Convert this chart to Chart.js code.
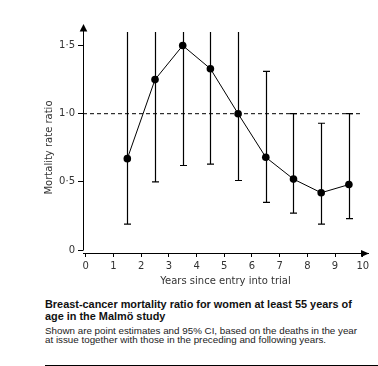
<!DOCTYPE html>
<html>
<head>
<meta charset="utf-8">
<script src="https://cdn.jsdelivr.net/npm/chart.js@4.4.1/dist/chart.umd.min.js"></script>
<style>
    body { margin: 0; width: 378px; height: 366px; position: relative; background: #fff; overflow: hidden; }
    #grafica { position: absolute; left: 0; top: 0; }
    .titulo { position: absolute; left: 45px; top: 297.5px; font: bold 10.9px 'Liberation Sans', Arial, sans-serif; line-height: 12.5px; color: #111; white-space: nowrap; }
    .nota { position: absolute; left: 45px; top: 325.5px; font: 9.8px 'Liberation Sans', Arial, sans-serif; line-height: 9.5px; color: #222; white-space: nowrap; }
    .regla { position: absolute; left: 45px; right: 0; top: 365px; height: 1px; background: #000; }
</style>
</head>
<body>
<canvas id="grafica" width="378" height="290"></canvas>
<div class="titulo">Breast-cancer mortality ratio for women at least 55 years of<br>age in the Malmö study</div>
<div class="nota">Shown are point estimates and 95% CI, based on the deaths in the year<br>at issue together with those in the preceding and following years.</div>
<div class="regla"></div>
<script>
// Datos
const anios = [1.5, 2.5, 3.5, 4.5, 5.5, 6.5, 7.5, 8.5, 9.5];
const razon = [0.67, 1.25, 1.50, 1.33, 1.00, 0.68, 0.52, 0.42, 0.48];
const icInferior = [0.19, 0.50, 0.62, 0.63, 0.51, 0.35, 0.27, 0.19, 0.23];
// null = el limite superior sale del grafico
const icSuperior = [null, null, null, null, null, 1.31, 1.00, 0.93, 1.00];
const corteSuperior = 1.6;
const referenciaX = [-0.1, 9.96];
const referenciaY = 1.0;
const ticksX = [0, 1, 2, 3, 4, 5, 6, 7, 8, 9, 10];
const ticksY = [0, 0.5, 1.0, 1.5];

const colorTexto = '#333';
const fuente = { family: "'DejaVu Sans', Verdana, sans-serif", size: 10 };

function formatoY(v) {
    if (v === 0) return '0';
    return v.toFixed(1).replace('.', '\u00b7');
}

const barrasError = {
    id: 'barrasError',
    beforeDatasetsDraw(chart) {
        const ctx = chart.ctx;
        const x = chart.scales.x, y = chart.scales.y;
        ctx.save();
        ctx.strokeStyle = '#000';
        ctx.lineWidth = 1.2;
        anios.forEach((a, i) => {
            const px = Math.round(x.getPixelForValue(a)) + 0.5;
            const yBajo = y.getPixelForValue(icInferior[i]);
            const alto = icSuperior[i] === null ? corteSuperior : icSuperior[i];
            const yAlto = y.getPixelForValue(alto);
            ctx.beginPath();
            ctx.moveTo(px, yBajo);
            ctx.lineTo(px, yAlto);
            ctx.moveTo(px - 3.5, yBajo);
            ctx.lineTo(px + 3.5, yBajo);
            if (icSuperior[i] !== null) {
                ctx.moveTo(px - 3.5, yAlto);
                ctx.lineTo(px + 3.5, yAlto);
            }
            ctx.stroke();
        });
        ctx.restore();
    }
};

const ejes = {
    id: 'ejes',
    afterDraw(chart) {
        const ctx = chart.ctx;
        const area = chart.chartArea;
        const y = chart.scales.y;
        ctx.save();
        ctx.strokeStyle = '#000';
        ctx.fillStyle = '#000';
        ctx.lineWidth = 1;
        // eje y, termina en el cero
        const ex = area.left + 0.5;
        ctx.beginPath();
        ctx.moveTo(ex, y.getPixelForValue(0) + 0.5);
        ctx.lineTo(ex, area.top + 6);
        ctx.stroke();
        ctx.beginPath();
        ctx.moveTo(ex, area.top);
        ctx.lineTo(ex - 3.8, area.top + 7.5);
        ctx.lineTo(ex + 3.8, area.top + 7.5);
        ctx.closePath();
        ctx.fill();
        // flecha del eje x
        const by = area.bottom + 0.5;
        ctx.beginPath();
        ctx.moveTo(area.right + 1, by);
        ctx.lineTo(area.right - 7, by - 3.4);
        ctx.lineTo(area.right - 7, by + 3.4);
        ctx.closePath();
        ctx.fill();
        // titulo del eje y
        ctx.translate(49.5, 147.5);
        ctx.rotate(-Math.PI / 2);
        ctx.font = "10px 'DejaVu Sans', Verdana, sans-serif";
        ctx.fillStyle = colorTexto;
        ctx.textAlign = 'center';
        ctx.textBaseline = 'middle';
        ctx.fillText('Mortality rate ratio', 0, 0);
        ctx.restore();
    }
};

document.addEventListener('DOMContentLoaded', () => {
    const ctx = document.getElementById('grafica').getContext('2d');
    new Chart(ctx, {
        type: 'line',
        data: {
            datasets: [{
                data: anios.map((a, i) => ({ x: a, y: razon[i] })),
                borderColor: '#000',
                borderWidth: 1,
                backgroundColor: '#000',
                pointRadius: 3.8,
                pointBackgroundColor: '#000',
                pointBorderWidth: 0,
                tension: 0
            }, {
                data: referenciaX.map(v => ({ x: v, y: referenciaY })),
                borderColor: '#000',
                borderWidth: 1,
                borderDash: [4, 3],
                pointRadius: 0,
                tension: 0
            }]
        },
        options: {
            responsive: false,
            animation: false,
            devicePixelRatio: 1,
            layout: { padding: { top: 24, right: 10, left: 0, bottom: 3 } },
            plugins: {
                legend: { display: false },
                title: { display: false },
                tooltip: { enabled: false }
            },
            scales: {
                x: {
                    type: 'linear',
                    min: -0.1,
                    max: 10.19,
                    afterBuildTicks: s => { s.ticks = ticksX.map(v => ({ value: v })); },
                    afterFit: s => { s.height = 34; },
                    border: { display: true, color: '#000', width: 1 },
                    grid: { drawOnChartArea: false, drawTicks: true, tickLength: 4, color: '#000' },
                    ticks: { color: colorTexto, font: fuente, padding: 3, maxRotation: 0 },
                    title: {
                        display: true,
                        text: 'Years since entry into trial',
                        color: colorTexto,
                        font: fuente,
                        padding: 0
                    }
                },
                y: {
                    min: -0.022,
                    max: 1.658,
                    afterBuildTicks: s => { s.ticks = ticksY.map(v => ({ value: v })); },
                    afterFit: s => { s.width = 83; },
                    border: { display: false },
                    grid: { drawOnChartArea: false, drawTicks: true, tickLength: 5, color: '#000' },
                    ticks: { color: colorTexto, font: fuente, padding: 3, callback: v => formatoY(v) }
                }
            }
        },
        plugins: [barrasError, ejes]
    });
});
</script>
</body>
</html>
